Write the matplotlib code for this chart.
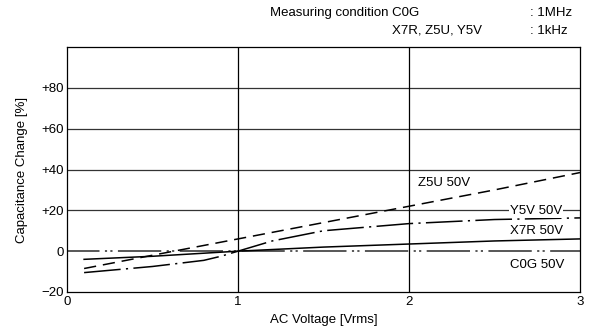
import matplotlib
matplotlib.use("Agg")
import matplotlib.pyplot as plt

plt.rcParams['font.family'] = ['Liberation Sans', 'DejaVu Sans']

# Data
z5u_x = [0.1, 0.5, 1.0, 1.5, 2.0, 2.5, 3.0]
z5u_y = [-8.5, -2.0, 6.0, 14.0, 22.0, 30.0, 38.5]

y5v_x = [0.1, 0.5, 0.8, 0.9, 1.0, 1.2, 1.5, 2.0, 2.5, 3.0]
y5v_y = [-10.5, -7.5, -4.5, -2.5, 0.0, 5.0, 10.0, 13.5, 15.5, 16.3]

x7r_x = [0.1, 0.5, 1.0, 1.5, 2.0, 2.5, 3.0]
x7r_y = [-4.0, -2.5, 0.0, 2.0, 3.5, 5.0, 6.0]

c0g_x = [0.0, 3.0]
c0g_y = [0.0, 0.0]

yticks = [-20, 0, 20, 40, 60, 80]
ytick_labels = ['\u221220', '0', '+20', '+40', '+60', '+80']
xticks = [0, 1, 2, 3]

fs = 9.5

fig = plt.figure(figsize=(5.96, 3.3), dpi=100)
ax = fig.add_axes([67/596, 1 - 292/330, (580-67)/596, (292-47)/330])
ax.set_xlim(0, 3)
ax.set_ylim(-20, 100)

for y in [20, 40, 60, 80]:
    ax.axhline(y, color='#333333', lw=0.9, zorder=1)
for x in [1, 2]:
    ax.axvline(x, color='black', lw=0.9, zorder=1)

ax.plot(c0g_x, c0g_y, color='#4a4a4a', lw=1.3,
        linestyle=(6.0, (24, 3, 1.2, 1.8, 1.2, 3)), zorder=2)
ax.plot(x7r_x, x7r_y, color='black', lw=1.1, zorder=3)
ax.plot(y5v_x, y5v_y, color='black', lw=1.1,
        linestyle=(0, (24, 3.5, 1.4, 3.5)), zorder=3)
ax.plot(z5u_x, z5u_y, color='black', lw=1.1,
        linestyle=(0, (8, 4.5)), zorder=3)

bb = dict(facecolor='white', edgecolor='none', pad=0.5)
ax.text(2.05, 33.5, 'Z5U 50V', fontsize=fs, va='center', ha='left', zorder=4)
ax.text(2.59, 19.7, 'Y5V 50V', fontsize=fs, va='center', ha='left', bbox=bb, zorder=4)
ax.text(2.59, 9.8, 'X7R 50V', fontsize=fs, va='center', ha='left', zorder=4)
ax.text(2.59, -7.0, 'C0G 50V', fontsize=fs, va='center', ha='left', zorder=4)

ax.set_yticks(yticks)
ax.set_yticklabels(ytick_labels, fontsize=fs)
ax.set_xticks(xticks)
ax.set_xticklabels([str(v) for v in xticks], fontsize=fs)
ax.tick_params(axis='y', length=0, pad=2)
ax.tick_params(axis='x', length=0, pad=3)
for s in ax.spines.values():
    s.set_color('black')
    s.set_linewidth(0.9)

ax.set_xlabel('AC Voltage [Vrms]', fontsize=fs, labelpad=4)
ax.set_ylabel('Capacitance Change [%]', fontsize=fs, labelpad=10)

fig.text(270/596, 1 - 13/330, 'Measuring condition C0G', fontsize=fs, ha='left', va='center')
fig.text(392/596, 1 - 30.5/330, 'X7R, Z5U, Y5V', fontsize=fs, ha='left', va='center')
fig.text(530/596, 1 - 13/330, ': 1MHz', fontsize=fs, ha='left', va='center')
fig.text(530/596, 1 - 30.5/330, ': 1kHz', fontsize=fs, ha='left', va='center')

fig.savefig('out.png', dpi=100)
